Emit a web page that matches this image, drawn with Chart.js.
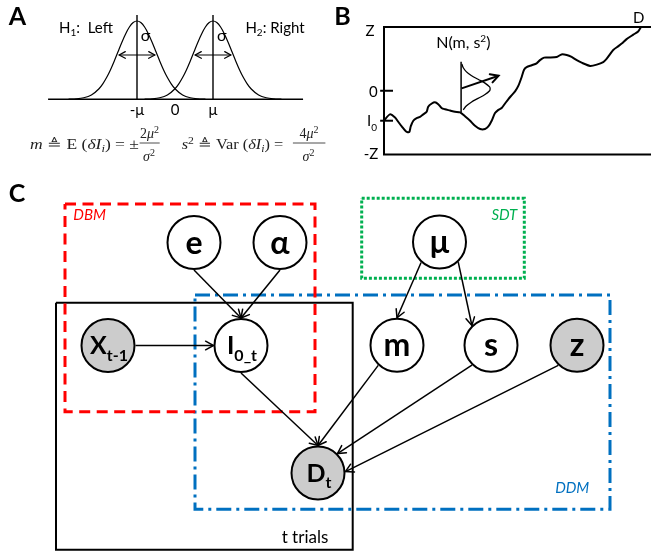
<!DOCTYPE html>
<html>
<head>
<meta charset="utf-8">
<script src="https://cdn.jsdelivr.net/npm/chart.js@4/dist/chart.umd.min.js"></script>
<style>
  html, body { margin: 0; padding: 0; background: #fff; }
  #wrap { width: 651px; height: 554px; }
</style>
</head>
<body>
<div id="wrap"><canvas id="fig" width="651" height="554"></canvas></div>
<script>
// ---------- panel A : the two likelihoods, x in units of mu, height relative to the peak
var densityOffset = [-1.8, -1.6, -1.4, -1.2, -1.0, -0.9, -0.8, -0.7, -0.6, -0.5, -0.4, -0.3, -0.2, -0.1, 0,
                     0.1, 0.2, 0.3, 0.4, 0.5, 0.6, 0.7, 0.8, 0.9, 1.0, 1.2, 1.4, 1.6, 1.8];
var densityHeight = [0.002, 0.006, 0.02, 0.056, 0.135, 0.198, 0.278, 0.375, 0.487, 0.607, 0.726, 0.835, 0.923, 0.98, 1,
                     0.98, 0.923, 0.835, 0.726, 0.607, 0.487, 0.375, 0.278, 0.198, 0.135, 0.056, 0.02, 0.006, 0.002];
var hypothesisMeans = [-1, 1];
var meanTickLabels = ['-μ', '0', 'μ'];
var meanTickValues = [-1, 0, 1];
var sigmaHalf = 0.47;      // half length of the sigma arrows
var sigmaLevel = 0.566;    // height of the sigma arrows

// ---------- panel B : one drift-diffusion walk, t in % of the trial, evidence in units of Z
var walkT = [0, 2.3, 4.3, 5.6, 6.9, 8.6, 9.8, 10.4, 11.4, 12.7, 14.0, 15.3, 16.6, 17.2, 18.6, 19.8, 21.1, 22.4, 23.7, 25.7,
             27.6, 29.6, 31.5, 33.5, 35.4, 37.4, 39.3, 40.6, 41.9, 43.2, 44.5, 45.8, 47.1, 48.4, 49.7, 51.0, 52.3, 53.6,
             54.5, 55.5, 57.5, 59.4, 60.7, 62.3, 64.6, 67.2, 69.1, 71.1, 73.0, 75.0, 76.9, 80.2, 82.8, 85.3, 86.6, 87.9,
             89.2, 91.2, 92.5, 94.4, 97.0, 98.9, 100];
var walkV = [-0.47, -0.37, -0.42, -0.49, -0.56, -0.64, -0.65, -0.56, -0.47, -0.43, -0.41, -0.37, -0.33, -0.25, -0.20, -0.18,
             -0.21, -0.27, -0.29, -0.31, -0.33, -0.34, -0.40, -0.47, -0.55, -0.60, -0.60, -0.56, -0.47, -0.35, -0.30, -0.27,
             -0.20, -0.13, -0.07, -0.01, 0.08, 0.22, 0.33, 0.37, 0.40, 0.43, 0.48, 0.52, 0.52, 0.53, 0.57, 0.56, 0.53, 0.48,
             0.44, 0.39, 0.41, 0.45, 0.50, 0.57, 0.64, 0.70, 0.74, 0.81, 0.88, 0.93, 1.0];
var startValue = -0.47;
var insetT = 30;
var insetV = [0.42, 0.36, 0.30, 0.24, 0.18, 0.12, 0.06, 0.03, 0.00, -0.06, -0.12, -0.18, -0.24, -0.30];
var insetDt = [0.3, 0.85, 2.0, 3.95, 6.6, 9.3, 11.1, 11.3, 11.1, 9.3, 6.6, 3.95, 2.0, 0.85];

// ---------- panel C : graphical model
var nodeLabel = ['e', 'α', 'μ', 'X', 'I', 'm', 's', 'z', 'D'];
var nodeSub = ['', '', '', 't-1', '0_t', '', '', '', 't'];
var nodeX = [194, 280, 439.5, 108, 241, 397, 491, 577, 318];
var nodeY = [242.5, 242.5, 242, 345.5, 345.5, 345.3, 345.3, 345.3, 473];
var nodeObserved = [false, false, false, true, false, false, false, true, true];
var edgeFrom = ['X', 'e', 'α', 'μ', 'μ', 'I', 'm', 's', 'z'];
var edgeTo = ['I', 'I', 'I', 'm', 's', 'D', 'D', 'D', 'D'];
var edgeFromAngle = [0, 90, 90, 132, 47, 90, 133, 134, 133];
var edgeToAngle = [180, 270, 270, 270, 226, 270, 270, 315, 357];
var plateName = ['t trials', 'DDM', 'DBM', 'SDT'];
var plateX0 = [56, 195, 65, 361.7], plateX1 = [352.7, 610, 315, 524.3];
var plateY0 = [302.7, 295, 204, 198.3], plateY1 = [549.7, 509.3, 411.7, 278.3];

var SANS = 'Lato, "Noto Sans", sans-serif';
var SERIF = '"Liberation Serif", "DejaVu Serif", serif';
var W = 651, H = 554, R = 26.5;

// linear scale whose value v0 lands on pixel p0 and v1 on pixel p1
function fit(v0, p0, v1, p1, size, vertical) {
  var k = (p1 - p0) / (v1 - v0);
  var a = v0 - p0 / k, b = v0 + (size - p0) / k;
  return { type: 'linear', display: false, bounds: 'data', grace: 0,
    min: Math.min(a, b), max: Math.max(a, b), reverse: vertical ? a < b : a > b };
}

function path(ax, pts, color, width, extra) {
  var d = { data: pts, xAxisID: 'x' + ax, yAxisID: 'y' + ax, showLine: true, fill: false,
    borderColor: color, borderWidth: width, pointRadius: 0, pointHoverRadius: 0,
    tension: 0, clip: false, order: 5 };
  return Object.assign(d, extra || {});
}

var datasets = [];
var arrows = [];

// panel A
datasets.push(path('a', [{ x: -3.34, y: 0 }, { x: 3.37, y: 0 }], '#000', 1.5));
hypothesisMeans.forEach(function (m) {
  datasets.push(path('a', densityOffset.map(function (d, i) { return { x: m + d, y: densityHeight[i] }; }),
    '#000', 1.2, { cubicInterpolationMode: 'monotone' }));
  datasets.push(path('a', [{ x: m, y: 0 }, { x: m, y: 1.077 }], '#000', 1.4));
  datasets.push(path('a', [{ x: m - sigmaHalf, y: sigmaLevel }, { x: m + sigmaHalf, y: sigmaLevel }], '#000', 1.2));
  arrows.push({ ax: 'a', x0: m - sigmaHalf, y0: sigmaLevel, x1: m + sigmaHalf, y1: sigmaLevel, both: true, len: 7, w: 1.2 });
});

// panel B
datasets.push(path('b', [{ x: 104, y: 1 }, { x: 0, y: 1 }, { x: 0, y: -1 }, { x: 104, y: -1 }], '#000', 2));
[0, startValue].forEach(function (v) {
  datasets.push(path('b', [{ x: -1.5, y: v }, { x: 3.5, y: v }], '#000', 2));
});
datasets.push(path('b', walkT.map(function (t, i) { return { x: t, y: walkV[i] }; }), '#000', 2, { tension: 0.25 }));
datasets.push(path('b', [{ x: insetT, y: -0.34 }, { x: insetT, y: 0.456 }], '#000', 1.5));
datasets.push(path('b', insetV.map(function (v, i) { return { x: insetT + insetDt[i], y: v }; }), '#000', 1.3, { tension: 0.4 }));
datasets.push(path('b', [{ x: 30.2, y: 0.038 }, { x: 44.6, y: 0.236 }], '#000', 2));
arrows.push({ ax: 'b', x0: 30.2, y0: 0.038, x1: 44.6, y1: 0.236, len: 9, w: 2 });

// panel C plates
var plateStyle = [
  { c: '#000000', w: 2, dash: [] },
  { c: '#0070c0', w: 3, dash: [15, 5, 3, 5] },
  { c: '#ff0000', w: 3, dash: [11, 6.5] },
  { c: '#00b050', w: 3, dash: [3, 2] }
];
plateName.forEach(function (n, i) {
  var s = plateStyle[i];
  datasets.push(path('', [
    { x: plateX0[i], y: plateY0[i] }, { x: plateX1[i], y: plateY0[i] }, { x: plateX1[i], y: plateY1[i] },
    { x: plateX0[i], y: plateY1[i] }, { x: plateX0[i], y: plateY0[i] }
  ], s.c, s.w, { borderDash: s.dash, order: 10 - i }));
});

// panel C edges
function nodeIndex(n) { return nodeLabel.indexOf(n); }
function anchor(n, deg) {
  var i = nodeIndex(n), r = deg * Math.PI / 180;
  return { x: nodeX[i] + (R + 1) * Math.cos(r), y: nodeY[i] + (R + 1) * Math.sin(r) };
}
edgeFrom.forEach(function (f, i) {
  var p = anchor(f, edgeFromAngle[i]), q = anchor(edgeTo[i], edgeToAngle[i]);
  datasets.push(path('', [p, q], '#000', 1.5, { order: 1 }));
  arrows.push({ ax: '', x0: p.x, y0: p.y, x1: q.x, y1: q.y, len: 9, w: 1.5 });
});

// panel C nodes
datasets.push({
  data: nodeX.map(function (x, i) { return { x: x, y: nodeY[i] }; }),
  xAxisID: 'x', yAxisID: 'y', showLine: false, clip: false, order: 0,
  pointRadius: R, pointHoverRadius: R, pointBorderWidth: 2, pointBorderColor: '#000',
  pointBackgroundColor: nodeObserved.map(function (o) { return o ? '#cccccc' : '#ffffff'; })
});

// ---------- text, all placed in page pixels
function sans(s, b, it) { return (it ? 'italic ' : '') + (b ? 'bold ' : '') + s + 'px ' + SANS; }
var fi = 'italic 14px ' + SERIF, fr = '14px ' + SERIF, fsi = 'italic 10px ' + SERIF, fsr = '10px ' + SERIF;
var texts = [
  { x: 17.5, y: 25, a: 'center', runs: [['A', sans(25, true)]] },
  { x: 342.5, y: 25, a: 'center', runs: [['B', sans(25, true)]] },
  { x: 17, y: 202, a: 'center', runs: [['C', sans(25, true)]] },
  { x: 86, y: 32.7, a: 'center', runs: [['H', sans(15)], ['1', sans(10), 3], [':  Left', sans(15)]] },
  { x: 275, y: 32.7, a: 'center', runs: [['H', sans(15)], ['2', sans(10), 3], [': Right', sans(15)]] },
  { x: 145.5, y: 40.7, a: 'center', runs: [['σ', sans(16)]] },
  { x: 221.7, y: 40.7, a: 'center', runs: [['σ', sans(16)]] },
  { x: 30, y: 148.5, a: 'left', fitW: 109, color: '#222', runs: [['m', fi], [' ≜ ', fr], ['E', fr], [' (', fr], ['δI', fi], ['i', fsi, 3], [') = ±', fr]] },
  { x: 149.6, y: 138, a: 'center', color: '#222', runs: [['2', fr], ['μ', fi], ['2', fsr, -5]] },
  { x: 149, y: 160.5, a: 'center', color: '#222', runs: [['σ', fi], ['2', fsr, -5]] },
  { x: 181.7, y: 148.5, a: 'left', fitW: 101.6, color: '#222', runs: [['s', fi], ['2', fsr, -5], [' ≜ ', fr], ['Var', fr], [' (', fr], ['δI', fi], ['i', fsi, 3], [') =', fr]] },
  { x: 309, y: 138, a: 'center', color: '#222', runs: [['4', fr], ['μ', fi], ['2', fsr, -5]] },
  { x: 308.5, y: 160.5, a: 'center', color: '#222', runs: [['σ', fi], ['2', fsr, -5]] },
  { x: 370, y: 36, a: 'center', runs: [['Z', sans(15)]] },
  { x: 373.3, y: 97.3, a: 'center', runs: [['0', sans(15)]] },
  { x: 372, y: 126, a: 'center', runs: [['I', sans(15)], ['0', sans(10), 4.5]] },
  { x: 371, y: 159.3, a: 'center', runs: [['-Z', sans(15)]] },
  { x: 638.7, y: 23.3, a: 'center', runs: [['D', sans(15)]] },
  { x: 463.3, y: 48.3, a: 'center', runs: [['N(m, s', sans(16)], ['2', sans(10), -6], [')', sans(16)]] },
  { x: 73.3, y: 220, a: 'left', color: '#ff0000', runs: [['DBM', sans(15, false, true)]] },
  { x: 517.3, y: 220, a: 'right', color: '#00b050', runs: [['SDT', sans(15, false, true)]] },
  { x: 589.3, y: 493.3, a: 'right', color: '#0070c0', runs: [['DDM', sans(15, false, true)]] },
  { x: 328.3, y: 543.3, a: 'right', runs: [['t trials', sans(17)]] }
];
meanTickLabels.forEach(function (l, i) {
  texts.push({ ax: 'a', vx: meanTickValues[i], y: 115, a: 'center', runs: [[l, sans(15)]] });
});
nodeLabel.forEach(function (l, i) {
  if (nodeSub[i]) {
    texts.push({ x: nodeX[i] + 1, y: nodeY[i] + 8.5, a: 'center', runs: [[l, sans(25, true)], [nodeSub[i], sans(16, true), 6.5]] });
  } else {
    texts.push({ x: nodeX[i], y: nodeY[i] + 11, a: 'center', runs: [[l, sans(32, true)]] });
  }
});
var fractionBars = [[140, 159.3, 143], [293.3, 325, 143]];

function drawRuns(ctx, t, x) {
  var w = 0;
  t.runs.forEach(function (r) { ctx.font = r[1]; r.w = ctx.measureText(r[0]).width; w += r.w; });
  var sx = t.fitW ? t.fitW / w : 1;
  var left = t.a === 'center' ? x - w * sx / 2 : t.a === 'right' ? x - w * sx : x;
  ctx.save();
  ctx.translate(left, t.y);
  ctx.scale(sx, 1);
  ctx.fillStyle = t.color || '#000';
  ctx.textAlign = 'left';
  ctx.textBaseline = 'alphabetic';
  var cx = 0;
  t.runs.forEach(function (r) { ctx.font = r[1]; ctx.fillText(r[0], cx, r[2] || 0); cx += r.w; });
  ctx.restore();
}

function head(ctx, fx, fy, tx, ty, len, w) {
  var a = Math.atan2(ty - fy, tx - fx), sp = 0.5;
  ctx.beginPath();
  ctx.moveTo(tx - len * Math.cos(a - sp), ty - len * Math.sin(a - sp));
  ctx.lineTo(tx, ty);
  ctx.lineTo(tx - len * Math.cos(a + sp), ty - len * Math.sin(a + sp));
  ctx.strokeStyle = '#000';
  ctx.lineWidth = w;
  ctx.lineCap = 'round';
  ctx.stroke();
}

var overlay = {
  id: 'overlay',
  afterDatasetsDraw: function (chart) {
    var ctx = chart.ctx, s = chart.scales;
    ctx.save();
    arrows.forEach(function (a) {
      var sx = s['x' + a.ax], sy = s['y' + a.ax];
      var x0 = sx.getPixelForValue(a.x0), y0 = sy.getPixelForValue(a.y0);
      var x1 = sx.getPixelForValue(a.x1), y1 = sy.getPixelForValue(a.y1);
      head(ctx, x0, y0, x1, y1, a.len, a.w);
      if (a.both) head(ctx, x1, y1, x0, y0, a.len, a.w);
    });
    fractionBars.forEach(function (b) {
      ctx.beginPath();
      ctx.moveTo(s.x.getPixelForValue(b[0]), s.y.getPixelForValue(b[2]));
      ctx.lineTo(s.x.getPixelForValue(b[1]), s.y.getPixelForValue(b[2]));
      ctx.strokeStyle = '#222';
      ctx.lineWidth = 0.8;
      ctx.stroke();
    });
    texts.forEach(function (t) {
      var x = t.ax ? s['x' + t.ax].getPixelForValue(t.vx) : s.x.getPixelForValue(t.x);
      drawRuns(ctx, t, x);
    });
    ctx.restore();
  }
};

new Chart(document.getElementById('fig'), {
  type: 'scatter',
  data: { datasets: datasets },
  options: {
    responsive: false,
    animation: false,
    devicePixelRatio: 1,
    events: [],
    layout: { padding: 0, autoPadding: false },
    plugins: { legend: { display: false }, tooltip: { enabled: false } },
    scales: {
      x: fit(0, 0, 1, 1, W, false),
      y: fit(0, 0, 1, 1, H, true),
      xa: fit(0, 175, 1, 213, W, false),
      ya: fit(0, 99.3, 1, 21, H, true),
      xb: fit(0, 384, 100, 641, W, false),
      yb: fit(-1, 154.5, 1, 27, H, true)
    }
  },
  plugins: [overlay]
});
</script>
</body>
</html>
